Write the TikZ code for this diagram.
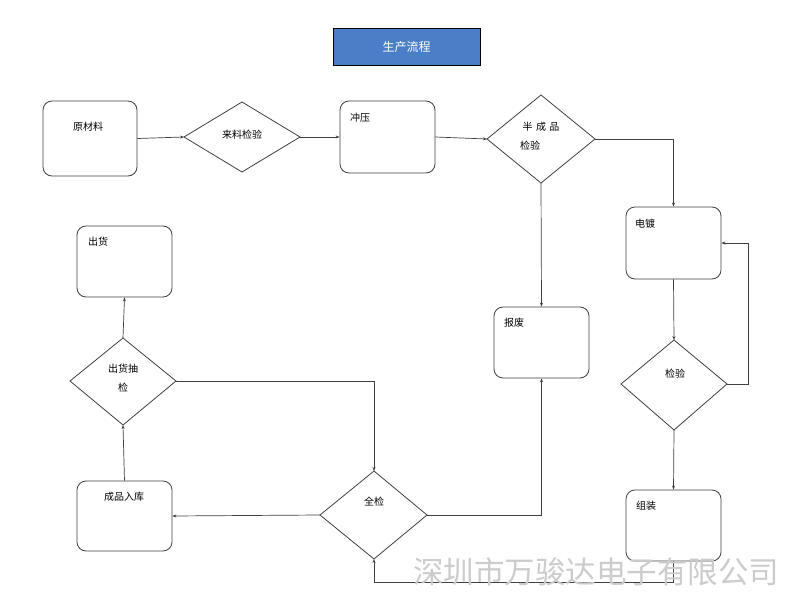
\documentclass[tikz,border=0pt]{standalone}
\usepackage{fontspec}
\setmainfont{Noto Sans CJK SC}
\usetikzlibrary{shapes.geometric,arrows.meta}
\begin{document}
\begin{tikzpicture}[x=1pt,y=-1pt,
  box/.style={draw=black!75,line width=0.8pt,rounded corners=9pt},
  dia/.style={draw=black!75,line width=0.8pt},
  lbl/.style={font=\fontsize{10}{12}\selectfont,inner sep=0pt},
  ar/.style={draw=black!75,line width=0.7pt,-{Stealth[length=4pt,width=3pt]}},
  ln/.style={draw=black!75,line width=0.7pt}]
\useasboundingbox[fill=white] (0,0) rectangle (800,599);
% title
\node[draw=black,fill={rgb,255:red,74;green,127;blue,200},minimum width=147pt,minimum height=37pt,inner sep=0pt,text=white,font=\fontsize{12}{14}\selectfont] (title) at (406.5,46.5) {生产流程};
% boxes
\node[box,minimum width=94pt,minimum height=75pt] (yc) at (90,138.5) {};
\node[lbl] at (88,127) {原材料};
\node[box,minimum width=95pt,minimum height=72pt] (cy) at (387.5,137) {};
\node[lbl] at (360,118) {冲压};
\node[box,minimum width=95pt,minimum height=72pt] (dd) at (673.5,243) {};
\node[lbl] at (645,224) {电镀};
\node[box,minimum width=95pt,minimum height=71pt] (zz) at (673.5,525.5) {};
\node[lbl] at (646,506) {组装};
\node[box,minimum width=95pt,minimum height=71pt] (bf) at (541.5,342.5) {};
\node[lbl] at (514,323) {报废};
\node[box,minimum width=95pt,minimum height=70pt] (cr) at (124.5,516) {};
\node[lbl] at (124,497) {成品入库};
\node[box,minimum width=95pt,minimum height=71pt] (ch) at (124.5,261.5) {};
\node[lbl] at (98,242) {出货};
% diamonds
\draw[dia] (184,137) coordinate (d1w) -- (242,102) -- (300,137) coordinate (d1e) -- (242,172) -- cycle;
\node[lbl] (d1) at (242,135) {来料检验};
\draw[dia] (487,139) coordinate (d2w) -- (541,95) -- (595,139) coordinate (d2e) -- (541,183) coordinate (d2s) -- cycle;
\node[lbl] (d2a) at (541,127) {半\,\,成\,\,品};
\node[lbl] (d2b) at (530,146) {检验};
\draw[dia] (621,384) -- (674,340) coordinate (d3n) -- (727,384) coordinate (d3e) -- (674,430) coordinate (d3s) -- cycle;
\node[lbl] (d3) at (675,374) {检验};
\draw[dia] (320,515) coordinate (d4w) -- (374,471) coordinate (d4n) -- (427,515) coordinate (d4e) -- (374,559) coordinate (d4s) -- cycle;
\node[lbl] (d4) at (374,502) {全检};
\draw[dia] (70,381) -- (123,338) coordinate (d5n) -- (176,381) coordinate (d5e) -- (123,425) coordinate (d5s) -- cycle;
\node[lbl] (d5a) at (123,369) {出货抽};
\node[lbl] (d5b) at (123,388) {检};
% connectors
\draw[ar] (yc.east) -- (d1w);
\draw[ar] (d1e) -- (cy.west);
\draw[ar] (cy.east) -- (d2w);
\draw[ar] (d2e) -- (dd.north |- d2e) -- (dd.north);
\draw[ar] (d2s) -- (bf.north);
\draw[ar] (dd.south) -- (d3n);
\draw[ar] (d3e) -- (748,384) -- (748,243) -- (dd.east);
\draw[ar] (d3s) -- (zz.north);
\draw[ar] (d4e) -- (bf.south |- d4e) -- (bf.south);
\draw[ar] (zz.south) -- (673.5,582) -- (374,582) -- (d4s);
\draw[ar] (d5e) -- (d4n |- d5e) -- (d4n);
\draw[ar] (d4w) -- (cr.east);
\draw[ar] (cr.north) -- (d5s);
\draw[ar] (d5n) -- (ch.south);
% watermark
\node[text=black!20,font=\fontsize{30.5}{32}\selectfont,inner sep=0pt] (wm) at (596,572) {深圳市万骏达电子有限公司};
\end{tikzpicture}
\end{document}
